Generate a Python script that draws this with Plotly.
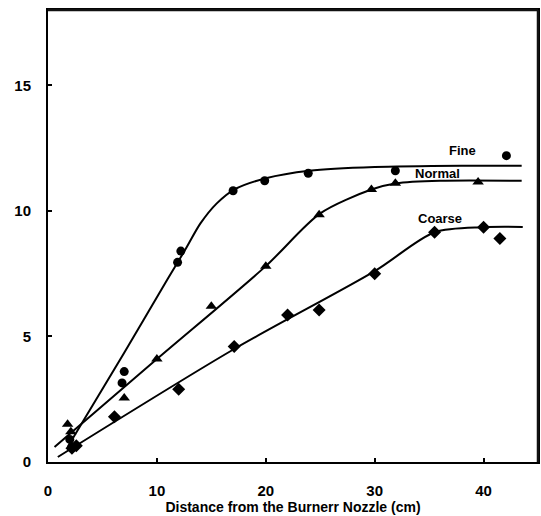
import plotly.graph_objects as go

# Measured points
fine_x = [2.0, 2.4, 6.8, 7.0, 11.9, 12.2, 17.0, 19.9, 23.9, 31.9, 42.1]
fine_y = [0.9, 0.6, 3.15, 3.6, 7.95, 8.4, 10.8, 11.2, 11.5, 11.6, 12.2]

normal_x = [1.8, 2.1, 7.0, 10.0, 15.0, 20.0, 24.9, 29.7, 31.9, 39.5]
normal_y = [1.5, 1.2, 2.55, 4.1, 6.2, 7.8, 9.85, 10.85, 11.1, 11.15]

coarse_x = [2.2, 2.6, 6.1, 12.0, 17.1, 22.0, 24.9, 30.0, 35.5, 40.0, 41.5]
coarse_y = [0.55, 0.65, 1.8, 2.9, 4.6, 5.85, 6.05, 7.5, 9.15, 9.35, 8.9]

# Fitted curves
fine_curve_x = [1.8, 7.0, 11.0, 12.6, 14.0, 15.5, 17.1, 20.0, 24.0, 30.0, 38.0, 43.5]
fine_curve_y = [0.6, 4.35, 7.3, 8.45, 9.5, 10.3, 10.85, 11.3, 11.6, 11.75, 11.8, 11.8]

normal_curve_x = [0.6, 10.0, 20.0, 25.0, 29.7, 32.0, 36.0, 43.5]
normal_curve_y = [0.6, 4.1, 7.8, 9.9, 10.85, 11.1, 11.2, 11.2]

coarse_curve_x = [0.9, 17.1, 30.0, 35.5, 40.0, 43.6]
coarse_curve_y = [0.2, 4.5, 7.6, 9.15, 9.35, 9.36]

label_names = ["Fine", "Normal", "Coarse"]
label_x = [38.1, 35.8, 36.0]
label_y = [12.4, 11.5, 9.7]

x_ticks = [0, 10, 20, 30, 40]
y_ticks = [0, 5, 10, 15]
x_title = "Distance from the Burnerr Nozzle (cm)"

FONT = "Liberation Sans, Arial, sans-serif"

fig = go.Figure()
for cx, cy in [(fine_curve_x, fine_curve_y), (normal_curve_x, normal_curve_y),
               (coarse_curve_x, coarse_curve_y)]:
    fig.add_trace(go.Scatter(x=cx, y=cy, mode="lines",
                             line=dict(color="black", width=2, shape="spline", smoothing=0.8),
                             showlegend=False, hoverinfo="skip"))

for px, py, sym, sz in [(fine_x, fine_y, "circle", 9),
                        (normal_x, normal_y, "triangle-up", 10),
                        (coarse_x, coarse_y, "diamond", 10)]:
    fig.add_trace(go.Scatter(x=px, y=py, mode="markers",
                             marker=dict(symbol=sym, size=sz, color="black"),
                             showlegend=False))

for name, lx, ly in zip(label_names, label_x, label_y):
    fig.add_annotation(x=lx, y=ly, text=name, showarrow=False,
                       font=dict(family=FONT, size=13, color="black", weight="bold"))

# plot frame (top and right sides)
fig.add_shape(type="line", xref="x domain", yref="y domain", x0=0, x1=1, y0=1, y1=1,
              line=dict(color="#111111", width=2.5), layer="above")
fig.add_shape(type="line", xref="x domain", yref="y domain", x0=1, x1=1, y0=0, y1=1,
              line=dict(color="#111111", width=2.5), layer="above")

axis_common = dict(showgrid=False, zeroline=False, showline=True, linecolor="black",
                   linewidth=2, mirror=True, ticks="inside", ticklen=4, tickwidth=1.5,
                   tickcolor="black", automargin=False,
                   tickfont=dict(family=FONT, size=15, color="black", weight="bold"))

fig.update_xaxes(range=[0, 45], tickvals=x_ticks, ticklabelstandoff=14,
                 title=dict(text=x_title, standoff=2,
                            font=dict(family=FONT, size=14, color="black", weight="bold")),
                 **axis_common)
fig.update_yaxes(range=[0, 18], tickvals=y_ticks, ticklabelstandoff=12, **axis_common)

fig.update_layout(width=541, height=516, plot_bgcolor="white", paper_bgcolor="white",
                  margin=dict(l=48, r=3, t=10, b=54))

fig.write_html("out.html", config={"displayModeBar": False},
               post_script="document.body.style.margin='0px';document.body.style.overflow='hidden';")
